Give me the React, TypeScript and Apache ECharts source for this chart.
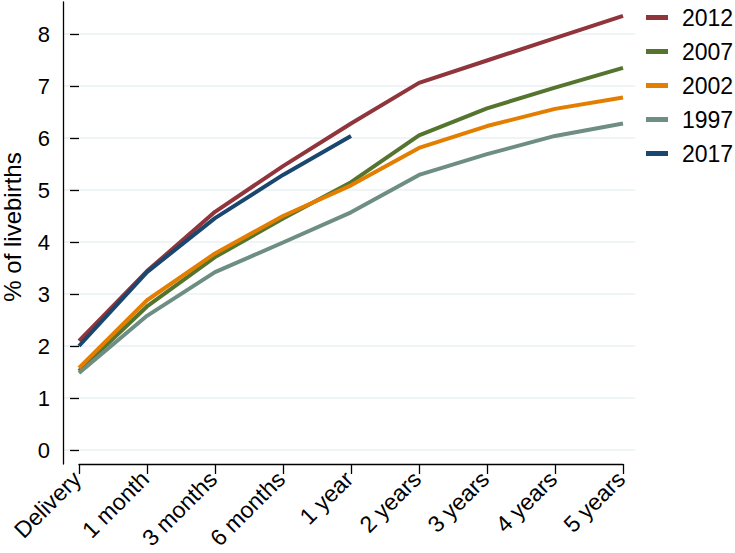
import React, { useEffect, useRef } from "react";
import * as echarts from "echarts";

const categories = ["Delivery", "1 month", "3 months", "6 months", "1 year", "2 years", "3 years", "4 years", "5 years"];
const seriesNames = ["2012", "2007", "2002", "1997", "2017"];
const v2012 = [2.1, 3.44, 4.58, 5.46, 6.28, 7.06, 7.49, 7.92, 8.35];
const v2007 = [1.52, 2.76, 3.71, 4.45, 5.15, 6.05, 6.57, 6.97, 7.35];
const v2002 = [1.58, 2.88, 3.78, 4.5, 5.09, 5.81, 6.23, 6.56, 6.78];
const v1997 = [1.48, 2.58, 3.42, 3.99, 4.57, 5.29, 5.69, 6.04, 6.28];
const v2017 = [2.0, 3.42, 4.46, 5.29, 6.04, null, null, null, null];
const colors = ["#90353b", "#55752f", "#e37e00", "#6e8e84", "#1a476f"];
const yTicks = [0, 8];

const FONT = "'Liberation Sans', Arial, sans-serif";

export default function App() {
  const ref = useRef<HTMLDivElement>(null);
  useEffect(() => {
    if (!ref.current) return;
    const chart = echarts.init(ref.current, null, { renderer: "svg" });
    const allValues = [v2012, v2007, v2002, v1997, v2017];
    const option: any = {
      animation: false,
      backgroundColor: "#ffffff",
      textStyle: { fontFamily: FONT, color: "#000" },
      legend: {
        orient: "vertical",
        left: 646,
        top: 6,
        padding: 0,
        data: seriesNames,
        icon: "rect",
        itemWidth: 22,
        itemHeight: 5,
        itemGap: 11,
        textStyle: { fontSize: 23, color: "#000", fontFamily: FONT, padding: [0, 0, 0, 9] },
      },
      grid: [
        { left: 63, right: 100, top: 34, bottom: 103, outerBoundsMode: "none", containLabel: false },
        { left: 79, right: 112, top: 2, bottom: 89, outerBoundsMode: "none", containLabel: false },
      ],
      xAxis: [
        {
          gridIndex: 0,
          type: "value",
          min: -16 / 68,
          max: categories.length - 1 + 12 / 68,
          show: false,
        },
        {
          gridIndex: 1,
          type: "category",
          data: categories,
          boundaryGap: false,
          axisLine: { show: true, lineStyle: { color: "#000", width: 1.3 } },
          axisTick: { show: true, length: 10, lineStyle: { color: "#000", width: 1.3 } },
          axisLabel: {
            rotate: 45,
            margin: 9,
            fontSize: 23,
            color: "#000",
            fontFamily: FONT,
            interval: 0,
            padding: [0, 3, 0, 0],
          },
          splitLine: { show: false },
        },
      ],
      yAxis: [
        {
          gridIndex: 0,
          type: "value",
          min: yTicks[0],
          max: yTicks[1],
          interval: 1,
          axisLine: { show: false },
          axisTick: { show: true, length: 9, lineStyle: { color: "#000", width: 1.3 } },
          axisLabel: { margin: 13, fontSize: 22, color: "#000", fontFamily: FONT },
          splitLine: { show: true, lineStyle: { color: "#eaf2f3", width: 1.5 } },
        },
        {
          gridIndex: 1,
          type: "value",
          offset: 16,
          axisLine: { show: true, onZero: false, lineStyle: { color: "#000", width: 1.3 } },
          axisTick: { show: false },
          axisLabel: { show: false },
          splitLine: { show: false },
          name: "% of livebirths",
          nameLocation: "middle",
          nameGap: 39,
          nameTextStyle: { fontSize: 24, color: "#000", fontFamily: FONT, padding: [0, 0, 0, 12] },
        },
      ],
      series: seriesNames.map((name, k) => ({
        name,
        type: "line",
        xAxisIndex: 0,
        yAxisIndex: 0,
        clip: false,
        data: allValues[k].map((v, i) => [i, v]),
        showSymbol: false,
        symbol: "none",
        connectNulls: false,
        color: colors[k],
        lineStyle: { color: colors[k], width: 4 },
      })),
    };
    chart.setOption(option);
    return () => chart.dispose();
  }, []);
  return <div ref={ref} style={{ position: "fixed", left: 0, top: 0, width: 735, height: 553 }} />;
}
